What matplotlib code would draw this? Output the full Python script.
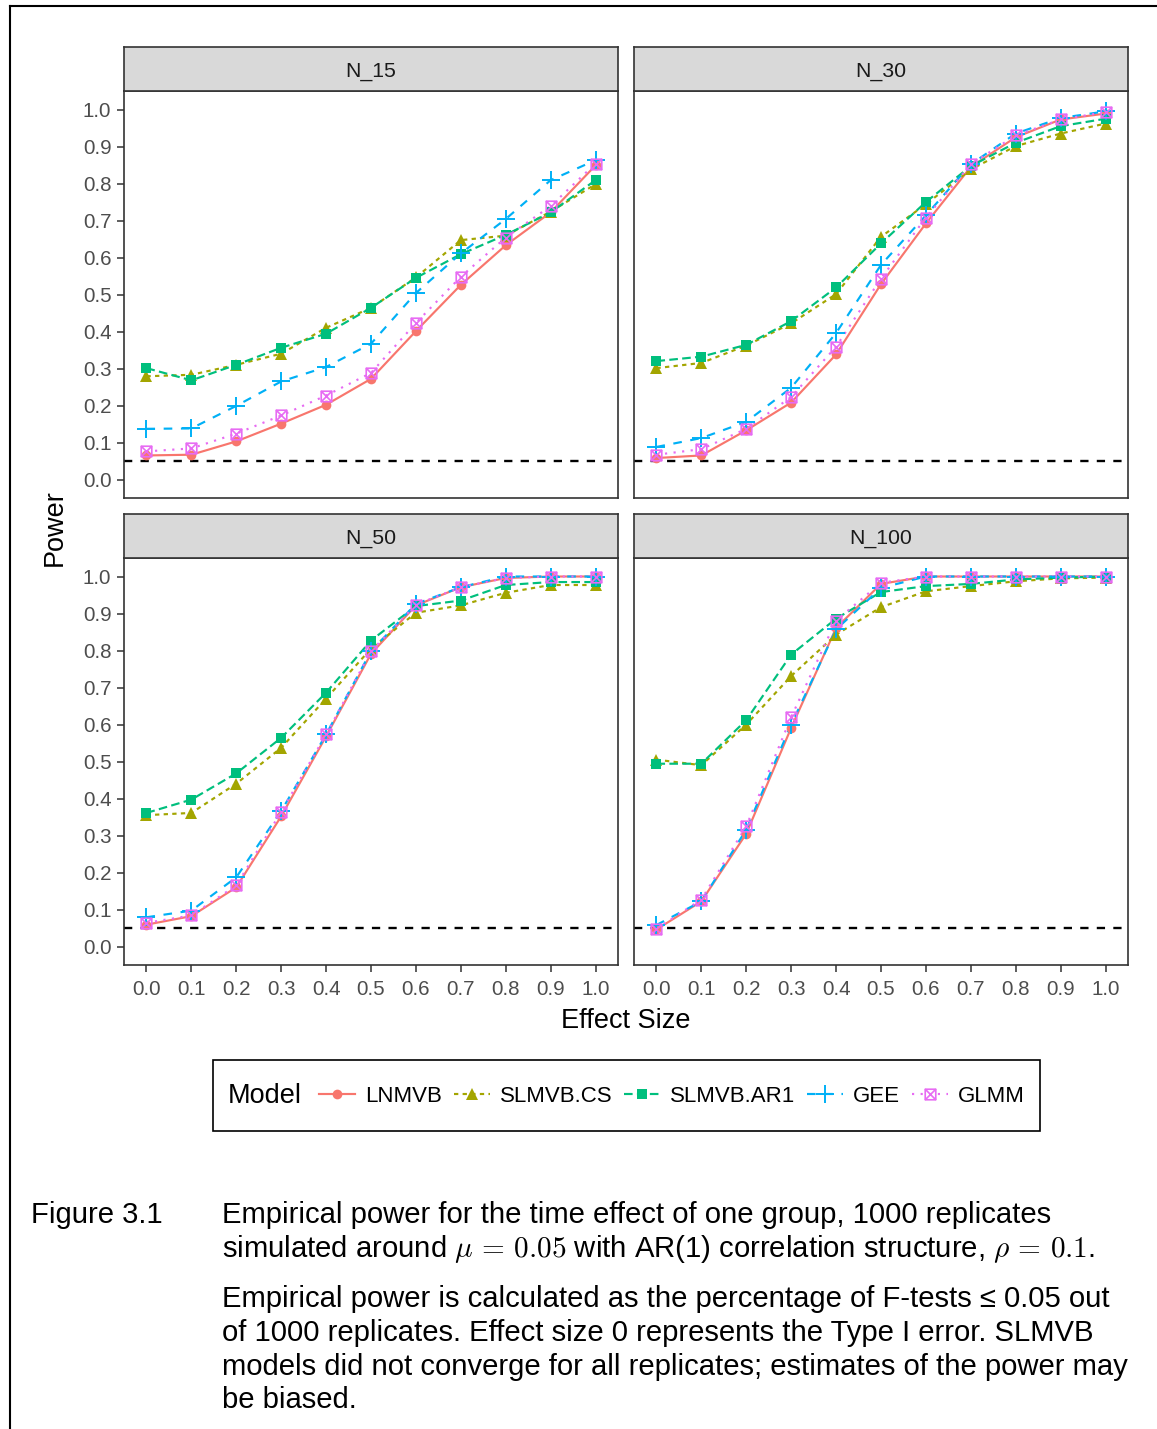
import matplotlib

matplotlib.use("Agg")
import matplotlib.pyplot as plt
from matplotlib.lines import Line2D
from matplotlib.patches import Rectangle
from matplotlib.path import Path
from matplotlib.ticker import FormatStrFormatter

plt.rcParams["font.family"] = ["Liberation Sans", "DejaVu Sans"]
plt.rcParams["mathtext.fontset"] = "cm"

W, H = 1157, 1429

EFFECT = [0.0, 0.1, 0.2, 0.3, 0.4, 0.5, 0.6, 0.7, 0.8, 0.9, 1.0]
MODELS = ["LNMVB", "SLMVB.CS", "SLMVB.AR1", "GEE", "GLMM"]
PANELS = ["N_15", "N_30", "N_50", "N_100"]

N15 = {
    "LNMVB": [0.065, 0.067, 0.103, 0.151, 0.202, 0.272, 0.401, 0.526, 0.633, 0.722, 0.849],
    "SLMVB.CS": [0.279, 0.283, 0.310, 0.340, 0.410, 0.464, 0.546, 0.647, 0.659, 0.724, 0.798],
    "SLMVB.AR1": [0.301, 0.268, 0.310, 0.356, 0.394, 0.464, 0.545, 0.609, 0.661, 0.722, 0.809],
    "GEE": [0.137, 0.138, 0.199, 0.265, 0.304, 0.367, 0.504, 0.611, 0.704, 0.809, 0.863],
    "GLMM": [0.076, 0.084, 0.124, 0.173, 0.227, 0.288, 0.423, 0.548, 0.654, 0.739, 0.854],
}
N30 = {
    "LNMVB": [0.058, 0.065, 0.133, 0.208, 0.338, 0.528, 0.692, 0.845, 0.925, 0.973, 0.989],
    "SLMVB.CS": [0.301, 0.315, 0.362, 0.422, 0.501, 0.656, 0.744, 0.838, 0.901, 0.935, 0.962],
    "SLMVB.AR1": [0.320, 0.332, 0.364, 0.428, 0.519, 0.638, 0.750, 0.847, 0.910, 0.955, 0.975],
    "GEE": [0.088, 0.112, 0.156, 0.248, 0.396, 0.580, 0.714, 0.852, 0.935, 0.977, 0.995],
    "GLMM": [0.067, 0.082, 0.137, 0.223, 0.359, 0.543, 0.708, 0.852, 0.930, 0.973, 0.993],
}
N50 = {
    "LNMVB": [0.059, 0.082, 0.160, 0.352, 0.568, 0.791, 0.922, 0.971, 0.996, 1.000, 1.000],
    "SLMVB.CS": [0.355, 0.361, 0.440, 0.537, 0.670, 0.805, 0.902, 0.922, 0.956, 0.977, 0.977],
    "SLMVB.AR1": [0.361, 0.397, 0.468, 0.564, 0.686, 0.827, 0.920, 0.935, 0.977, 0.985, 0.985],
    "GEE": [0.079, 0.097, 0.187, 0.366, 0.573, 0.798, 0.926, 0.971, 1.000, 1.000, 1.000],
    "GLMM": [0.064, 0.084, 0.165, 0.364, 0.573, 0.798, 0.924, 0.971, 0.996, 1.000, 1.000],
}
N100 = {
    "LNMVB": [0.046, 0.122, 0.305, 0.591, 0.861, 0.980, 1.000, 1.000, 1.000, 1.000, 1.000],
    "SLMVB.CS": [0.505, 0.490, 0.600, 0.731, 0.843, 0.917, 0.960, 0.974, 0.987, 0.995, 0.997],
    "SLMVB.AR1": [0.494, 0.494, 0.612, 0.789, 0.886, 0.958, 0.974, 0.980, 0.992, 0.997, 1.000],
    "GEE": [0.058, 0.122, 0.316, 0.600, 0.857, 0.969, 1.000, 1.000, 1.000, 1.000, 1.000],
    "GLMM": [0.048, 0.127, 0.325, 0.620, 0.881, 0.983, 1.000, 1.000, 1.000, 1.000, 1.000],
}
DATA = [N15, N30, N50, N100]
ALPHA = 0.05

# ggplot-ish styling per model
COLORS = ["#F8766D", "#A3A500", "#00BF7D", "#00B0F6", "#E76BF3"]
DASHES = [None, (2, 2), (4, 2), (4, 4), (1, 3)]
SQX = Path(
    [(-1, -1), (1, -1), (1, 1), (-1, 1), (-1, -1), (-1, -1), (1, 1), (-1, 1), (1, -1)],
    [Path.MOVETO, Path.LINETO, Path.LINETO, Path.LINETO, Path.CLOSEPOLY,
     Path.MOVETO, Path.LINETO, Path.MOVETO, Path.LINETO],
)
MARKERS = [
    dict(marker="o", ms=7, mew=0),
    dict(marker="^", ms=8.6, mew=0),
    dict(marker="s", ms=7.4, mew=0),
    dict(marker="+", ms=12.5, mew=1.4),
    dict(marker=SQX, ms=7.6, mew=1.2, mfc="none"),
]
LW = 1.55


def box(x0, y0, x1, y1):
    return [x0 / W, 1 - y1 / H, (x1 - x0) / W, (y1 - y0) / H]


fig = plt.figure(figsize=(W / 100, H / 100), dpi=100)

cols = [(124, 618), (634, 1128)]
rows = [(47, 91, 498), (514, 558, 965)]
GREY20 = "#333333"

for i, (name, data) in enumerate(zip(PANELS, DATA)):
    r, c = divmod(i, 2)
    x0, x1 = cols[c]
    s0, p0, p1 = rows[r]
    ax = fig.add_axes(box(x0, p0, x1, p1))
    for j, m in enumerate(MODELS):
        kw = dict(color=COLORS[j], lw=LW, zorder=2, solid_capstyle="butt",
                  dash_capstyle="butt")
        if DASHES[j] is not None:
            kw["dashes"] = DASHES[j]
        ax.plot(EFFECT, data[m], **kw)
    ax.axhline(ALPHA, color="black", lw=1.7, dashes=(3.5, 3.5), zorder=2.5)
    for j, m in enumerate(MODELS):
        ax.plot(EFFECT, data[m], ls="none", color=COLORS[j], mec=COLORS[j],
                zorder=3, **MARKERS[j])
    ax.set_xlim(-0.05, 1.05)
    ax.set_ylim(-0.05, 1.05)
    ax.set_xticks(EFFECT)
    ax.set_yticks(EFFECT)
    ax.xaxis.set_major_formatter(FormatStrFormatter("%.1f"))
    ax.yaxis.set_major_formatter(FormatStrFormatter("%.1f"))
    ax.tick_params(length=5, width=1.1, color=GREY20, labelcolor="#4D4D4D",
                   labelsize=14.8, pad=4)
    ax.tick_params(axis="x", pad=6)
    if c == 1:
        ax.tick_params(axis="y", left=False, labelleft=False)
    if r == 0:
        ax.tick_params(axis="x", bottom=False, labelbottom=False)
    for sp in ax.spines.values():
        sp.set_color(GREY20)
        sp.set_linewidth(1.2)

    st = fig.add_axes(box(x0, s0, x1, p0))
    st.set_facecolor("#D9D9D9")
    st.set_xticks([])
    st.set_yticks([])
    for sp in st.spines.values():
        sp.set_color(GREY20)
        sp.set_linewidth(1.2)
    st.text(0.5, 0.44, name, ha="center", va="center", fontsize=15.3,
            color="#1A1A1A", transform=st.transAxes)

fig.text(55 / W, 1 - 528 / H, "Power", rotation=90, ha="center", va="center",
         fontsize=19.5)
fig.text(626 / W, 1 - 1021 / H, "Effect Size", ha="center", va="center",
         fontsize=19.5)

# legend box
fig.add_artist(Rectangle((213 / W, 1 - 1131 / H), 827 / W, 71 / H,
                         transform=fig.transFigure, fill=False,
                         edgecolor="black", lw=1.2))
fig.text(228 / W, 1 - 1096 / H, "Model", ha="left", va="center", fontsize=19.5)
handles = []
for j, m in enumerate(MODELS):
    kw = dict(color=COLORS[j], mec=COLORS[j], lw=LW, **MARKERS[j])
    if DASHES[j] is not None:
        kw["dashes"] = DASHES[j]
    handles.append(Line2D([], [], **kw))
fig.legend(handles, MODELS, loc="center", bbox_to_anchor=(672 / W, 1 - 1096 / H),
           ncol=5, frameon=False, fontsize=16, handlelength=1.6,
           handletextpad=0.45, columnspacing=0.55, numpoints=1,
           borderpad=0, borderaxespad=0)

# caption
CAP = 21.1
fig.text(31 / W, 1 - 1223 / H, "Figure 3.1", fontsize=CAP, va="baseline")
cap_lines = [
    (1223, "Empirical power for the time effect of one group, 1000 replicates"),
    (1257, r"simulated around $\mu\,=\,0.05$ with AR(1) correlation structure, $\rho\,=\,0.1$."),
    (1307, "Empirical power is calculated as the percentage of F-tests \u2264 0.05 out"),
    (1341, "of 1000 replicates. Effect size 0 represents the Type I error. SLMVB"),
    (1375, "models did not converge for all replicates; estimates of the power may"),
    (1408, "be biased."),
]
for yy, ln in cap_lines:
    fig.text(222 / W, 1 - yy / H, ln, fontsize=CAP, va="baseline")

# page frame
fig.add_artist(Line2D([10 / W, 10 / W], [0, 1 - 6 / H], color="black", lw=1.5,
                      transform=fig.transFigure))
fig.add_artist(Line2D([10 / W, 1], [1 - 6 / H, 1 - 6 / H], color="black", lw=1.5,
                      transform=fig.transFigure))

fig.savefig("out.png", dpi=100)
